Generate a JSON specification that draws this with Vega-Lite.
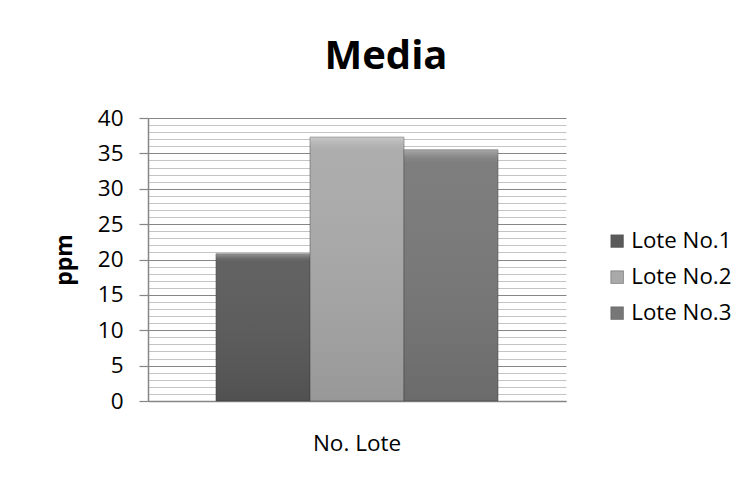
{
  "$schema": "https://vega.github.io/schema/vega-lite/v6.json",
  "width": 418,
  "height": 283,
  "autosize": {"type": "none"},
  "padding": {"left": 148, "top": 118, "right": 183, "bottom": 84},
  "background": "white",
  "config": {
    "font": "Open Sans",
    "view": {"stroke": null}
  },
  "title": {
    "text": "Media",
    "font": "Open Sans",
    "fontSize": 40,
    "fontWeight": "bold",
    "color": "#000000",
    "anchor": "middle",
    "frame": "group",
    "baseline": "alphabetic",
    "offset": -2,
    "dx": 29
  },
  "data": {
    "values": [
      {"grupo": "No. Lote", "lote": "Lote No.1", "ppm": 20.8},
      {"grupo": "No. Lote", "lote": "Lote No.2", "ppm": 37.3},
      {"grupo": "No. Lote", "lote": "Lote No.3", "ppm": 35.5}
    ]
  },
  "encoding": {
    "x": {
      "field": "grupo",
      "type": "nominal",
      "scale": {"paddingInner": 0, "paddingOuter": 0.241},
      "axis": {
        "title": null,
        "labelAngle": 0,
        "labelFont": "Open Sans",
        "labelFontSize": 22.5,
        "labelColor": "#000000",
        "labelPadding": 31,
        "labelBaseline": "top",
        "ticks": false,
        "domain": true,
        "domainColor": "#868686",
        "domainWidth": 1.5,
        "grid": false
      }
    },
    "xOffset": {
      "field": "lote",
      "type": "nominal",
      "scale": {"paddingInner": 0, "paddingOuter": 0}
    },
    "y": {
      "field": "ppm",
      "type": "quantitative",
      "scale": {"domain": [0, 40], "nice": false},
      "axis": {
        "title": "ppm",
        "titleFont": "Open Sans",
        "titleFontSize": 23,
        "titleFontWeight": "bold",
        "titleColor": "#000000",
        "titlePadding": 21,
        "values": [0,1,2,3,4,5,6,7,8,9,10,11,12,13,14,15,16,17,18,19,20,21,22,23,24,25,26,27,28,29,30,31,32,33,34,35,36,37,38,39,40],
        "labelExpr": "datum.value % 5 === 0 ? datum.label : ''",
        "labelFont": "Open Sans",
        "labelFontSize": 22.5,
        "labelColor": "#000000",
        "labelPadding": 16,
        "tickSize": 9,
        "tickWidth": 1.2,
        "tickColor": {"condition": {"test": "datum.value % 5 === 0", "value": "#868686"}, "value": "rgba(0,0,0,0)"},
        "grid": true,
        "gridColor": {"condition": {"test": "datum.value % 5 === 0", "value": "#868686"}, "value": "#c4c4c4"},
        "gridWidth": 1.2,
        "domain": true,
        "domainColor": "#868686",
        "domainWidth": 1.5
      }
    }
  },
  "layer": [
    {
      "mark": {"type": "bar", "stroke": "#3a3a3a", "strokeOpacity": 0.45, "strokeWidth": 1},
      "encoding": {
        "color": {
          "field": "lote",
          "type": "nominal",
          "scale": {"domain": ["Lote No.1", "Lote No.2", "Lote No.3"], "range": ["#5a5a5a", "#a9a9a9", "#777777"]},
          "legend": {
            "title": null,
            "orient": "none",
            "legendX": 458,
            "legendY": 112,
            "symbolType": "square",
            "symbolSize": 160,
            "symbolStrokeColor": "#555555",
            "symbolStrokeWidth": 0.5,
            "labelFont": "Open Sans",
            "labelFontSize": 22.3,
            "labelColor": "#000000",
            "labelOffset": 3,
            "rowPadding": 13
          }
        }
      }
    },
    {
      "mark": {
        "type": "bar",
        "fill": {
          "gradient": "linear",
          "x1": 0, "y1": 0, "x2": 0, "y2": 1,
          "stops": [
            {"offset": 0, "color": "rgba(255,255,255,0.35)"},
            {"offset": 0.03, "color": "rgba(255,255,255,0.12)"},
            {"offset": 0.05, "color": "rgba(255,255,255,0.05)"},
            {"offset": 1, "color": "rgba(0,0,0,0.1)"}
          ]
        }
      }
    }
  ]
}
